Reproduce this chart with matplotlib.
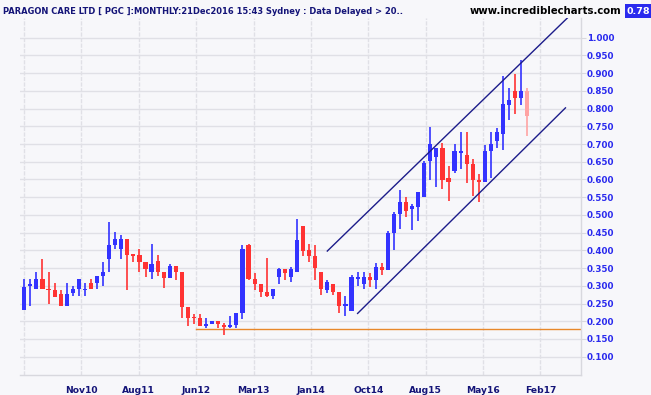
import matplotlib
matplotlib.use('Agg')
import matplotlib.pyplot as plt
import numpy as np

# Monthly OHLC, Jan 2010 .. Dec 2016 (84 bars)
opens = [0.231, 0.299, 0.290, 0.318, 0.290, 0.289, 0.278, 0.244, 0.279, 0.290,
         0.287, 0.307, 0.307, 0.327, 0.375, 0.415, 0.404, 0.432, 0.386, 0.386,
         0.367, 0.338, 0.369, 0.338, 0.321, 0.356, 0.338, 0.241, 0.210, 0.209,
         0.186, 0.191, 0.200, 0.190, 0.184, 0.190, 0.223, 0.415, 0.320, 0.306,
         0.283, 0.272, 0.326, 0.346, 0.326, 0.340, 0.470, 0.401, 0.385, 0.340,
         0.289, 0.306, 0.283, 0.243, 0.229, 0.320, 0.306, 0.325, 0.317, 0.353,
         0.345, 0.450, 0.503, 0.537, 0.517, 0.523, 0.551, 0.652, 0.664, 0.689,
         0.604, 0.624, 0.675, 0.669, 0.644, 0.599, 0.593, 0.680, 0.709, 0.729,
         0.810, 0.849, 0.829, 0.849]
highs = [0.318, 0.318, 0.338, 0.375, 0.338, 0.307, 0.289, 0.307, 0.298, 0.318,
         0.307, 0.318, 0.327, 0.366, 0.481, 0.452, 0.443, 0.432, 0.387, 0.404,
         0.367, 0.418, 0.387, 0.338, 0.361, 0.356, 0.338, 0.241, 0.220, 0.221,
         0.209, 0.200, 0.200, 0.195, 0.214, 0.223, 0.415, 0.417, 0.337, 0.306,
         0.379, 0.292, 0.350, 0.346, 0.352, 0.489, 0.470, 0.417, 0.416, 0.340,
         0.316, 0.306, 0.283, 0.272, 0.330, 0.340, 0.340, 0.336, 0.365, 0.365,
         0.455, 0.507, 0.571, 0.551, 0.531, 0.565, 0.653, 0.748, 0.689, 0.703,
         0.638, 0.701, 0.734, 0.734, 0.658, 0.616, 0.698, 0.735, 0.745, 0.891,
         0.858, 0.897, 0.937, 0.858]
lows = [0.231, 0.244, 0.290, 0.290, 0.249, 0.269, 0.244, 0.244, 0.270, 0.270,
        0.270, 0.290, 0.290, 0.298, 0.338, 0.404, 0.375, 0.289, 0.366, 0.338,
        0.324, 0.318, 0.327, 0.293, 0.321, 0.317, 0.210, 0.186, 0.193, 0.186,
        0.180, 0.191, 0.180, 0.160, 0.180, 0.180, 0.206, 0.317, 0.289, 0.269,
        0.269, 0.264, 0.305, 0.317, 0.311, 0.340, 0.385, 0.366, 0.317, 0.274,
        0.280, 0.274, 0.223, 0.215, 0.229, 0.300, 0.292, 0.297, 0.291, 0.330,
        0.345, 0.401, 0.461, 0.495, 0.456, 0.483, 0.551, 0.599, 0.580, 0.574,
        0.540, 0.619, 0.630, 0.591, 0.552, 0.535, 0.593, 0.604, 0.688, 0.683,
        0.767, 0.784, 0.810, 0.722]
closes = [0.297, 0.306, 0.318, 0.290, 0.287, 0.269, 0.244, 0.278, 0.290, 0.318,
          0.290, 0.290, 0.327, 0.338, 0.415, 0.432, 0.432, 0.387, 0.385, 0.367,
          0.346, 0.361, 0.338, 0.321, 0.356, 0.338, 0.241, 0.209, 0.208, 0.186,
          0.191, 0.200, 0.191, 0.184, 0.190, 0.223, 0.404, 0.320, 0.306, 0.283,
          0.272, 0.292, 0.346, 0.337, 0.346, 0.428, 0.399, 0.385, 0.350, 0.291,
          0.311, 0.283, 0.244, 0.249, 0.325, 0.325, 0.325, 0.317, 0.353, 0.345,
          0.450, 0.503, 0.537, 0.512, 0.526, 0.565, 0.647, 0.700, 0.689, 0.599,
          0.593, 0.681, 0.681, 0.644, 0.599, 0.593, 0.680, 0.699, 0.733, 0.812,
          0.824, 0.829, 0.849, 0.778]

x_labels = ['Nov10', 'Aug11', 'Jun12', 'Mar13', 'Jan14', 'Oct14', 'Aug15', 'May16', 'Feb17']
y_tick_values = [0.10, 0.15, 0.20, 0.25, 0.30, 0.35, 0.40, 0.45, 0.50,
                 0.55, 0.60, 0.65, 0.70, 0.75, 0.80, 0.85, 0.90, 0.95, 1.00]
support_level = 0.178
support_start = 28.3
upper_channel_x = [50.0, 90.0]
upper_channel_y = [0.398, 1.062]
lower_channel_x = [55.0, 89.3]
lower_channel_y = [0.222, 0.802]
last_price = 0.78

title = 'PARAGON CARE LTD [ PGC ]:MONTHLY:21Dec2016 15:43 Sydney : Data Delayed > 20..'
site = 'www.incrediblecharts.com'

BG = '#f7f7fa'
UP = '#3333ff'
DOWN = '#ff3333'
CURRENT = '#ffa3a3'
GRID = '#e0e0e6'

W, H = 651, 395
fig = plt.figure(figsize=(W / 100, H / 100), dpi=100, facecolor=BG)
ax_l, ax_r, ax_t, ax_b = 20, 581, 18, 375
ax = fig.add_axes([ax_l / W, 1 - ax_b / H, (ax_r - ax_l) / W, (ax_b - ax_t) / H])
ax.set_facecolor(BG)

px_per_bar = 6.06
x0_px = 24.3
ax.set_xlim((ax_l - x0_px) / px_per_bar, (ax_r - x0_px) / px_per_bar)
ax.set_ylim(1.0 - (ax_b - 37.7) / 354.4, 1.0 + (37.7 - ax_t) / 354.4)

# grid
for v in y_tick_values:
    ax.axhline(v, color=GRID, lw=1, zorder=0)
first_tick, tick_step = 9.42, 9.47
tick_pos = [first_tick + tick_step * k for k in range(len(x_labels))]
for xp in [first_tick - tick_step] + tick_pos:
    ax.axvline(xp, color=GRID, lw=1, ls=(0, (3, 1)), zorder=0)

n = len(opens)
idx = np.arange(n)
o = np.array(opens); h = np.array(highs); l = np.array(lows); c = np.array(closes)
colors = [UP if c[i] >= o[i] else DOWN for i in range(n)]
colors[-1] = CURRENT
ax.vlines(idx, l, h, colors=colors, lw=1.2, zorder=2)
bottoms = np.minimum(o, c)
heights = np.maximum(np.abs(c - o), 0.0035)
ax.bar(idx, heights, bottom=bottoms, width=0.68, color=colors, lw=0, zorder=3)

# trend lines
ax.plot([support_start, ax.get_xlim()[1]], [support_level, support_level],
        color='#e8882a', lw=1, zorder=1)
ax.plot(upper_channel_x, upper_channel_y, color='#1c1c8a', lw=1, zorder=4)
ax.plot(lower_channel_x, lower_channel_y, color='#1c1c8a', lw=1, zorder=4)

# axes styling
for s in ['left', 'top']:
    ax.spines[s].set_visible(False)
for s in ['right', 'bottom']:
    ax.spines[s].set_color('#d8d8de')
    ax.spines[s].set_linewidth(1)
ax.yaxis.tick_right()
ax.set_yticks(y_tick_values)
ax.set_yticklabels(['%.3f' % v for v in y_tick_values], color='#2a2aee',
                   fontsize=6.3, fontweight='bold', family='DejaVu Sans')
ax.tick_params(axis='y', length=3.6, color='#d8d8de', pad=0.6)
ax.set_xticks(tick_pos)
ax.set_xticklabels(x_labels, color='#141478', fontsize=6.6, fontweight='bold',
                   family='DejaVu Sans')
ax.tick_params(axis='x', length=0, pad=8)

fig.text(3 / W, 1 - 11 / H, title, fontsize=6.7, fontweight='bold', color='#141478',
         va='center', ha='left', family='DejaVu Sans', fontstretch='condensed')
fig.text(470 / W, 1 - 11 / H, site, fontsize=7.3, fontweight='bold', color='black',
         va='center', ha='left', family='DejaVu Sans')
fig.text(638.5 / W, 1 - 11 / H, '%.2f' % last_price, fontsize=6.8, fontweight='bold',
         color='white', va='center', ha='center', family='DejaVu Sans',
         bbox=dict(boxstyle='square,pad=0.22', fc='#2a2aee', ec='none'))

fig.savefig('out.png', dpi=100, facecolor=BG)
